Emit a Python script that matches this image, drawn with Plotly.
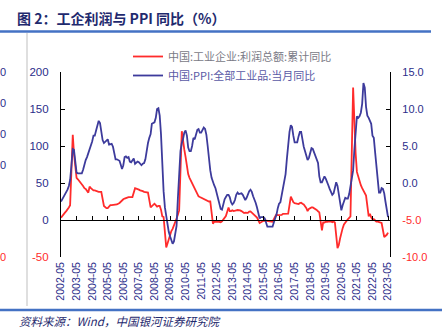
import pandas as pd
import plotly.graph_objects as go

# ---------------- data ----------------
months = pd.date_range("2002-05-01", "2023-05-01", freq="MS")

# 中国:工业企业:利润总额:累计同比 (%), None = January (not published)
profit = (
    [3, 6, 8, 10, 12, 14, 17, 20] +                                      # 2002 May-Dec
    [None, 115, 90, 68, 57, 55, 53, 50, 48, 46, 43, 42] +                # 2003
    [None, 37, 45, 43, 41, 40, 40, 39, 39, 38, 38, 38] +                 # 2004
    [None, 19, 17, 16, 16, 19, 20, 20, 20, 20, 21, 21] +                 # 2005
    [None, 23, 25, 27, 28, 29, 30, 30, 31, 31, 31, 31] +                 # 2006
    [None, 43, 42, 41, 41, 40, 40, 39, 38, 38, 38, 37] +                 # 2007
    [None, 17, 19, 21, 22, 20, 18, 19, 19, 14, 5, 4] +                   # 2008
    [None, -37, -32, -26, -20, -15, -12, -8, -4, 2, 7, 13] +             # 2009
    [None, 120, 105, 95, 85, 72, 62, 57, 53, 50, 47, 43] +               # 2010
    [None, 34, 32, 31, 30, 29, 29, 28, 27, 26, 25, 25] +                 # 2011
    [None, -5, -2.5, -2, -2.4, -2.2, -2.7, -3, -1.8, 0.5, 3, 5.3] +      # 2012
    [None, 17, 12, 12, 13, 12, 12, 13, 13.5, 13.5, 13, 12] +             # 2013
    [None, 9.4, 10, 10, 9.6, 11.4, 11.5, 10, 8, 6.7, 5.3, 3.3] +         # 2014
    [None, -4, -3, -1, -1, -0.7, -1, -2, -1.7, -2, -1.9, -2.3] +         # 2015
    [None, 4.8, 7.4, 6.5, 6.4, 6.2, 6.9, 8.4, 8.4, 8.6, 9.4, 8.5] +      # 2016
    [None, 31.5, 28, 24, 22.7, 22, 21.6, 21.6, 22.8, 23.3, 21.9, 21] +   # 2017
    [None, 16, 12, 15, 16.5, 17, 17, 16, 14.7, 13.6, 11.8, 10.3] +       # 2018
    [None, -14, -3.3, -3.4, -2.3, -2.4, -1.7, -1.7, -2.1, -2.9, -2.1, -3.3] +  # 2019
    [None, -38, -34, -25, -17, -11, -6, -3, -1, 1, 3, 5] +               # 2020
    [None, 179, 130, 90, 65, 58, 53, 47, 43, 40, 36, 33] +               # 2021
    [None, 5, 8.5, 3.5, 1, 1, -1.1, -2.1, -2.3, -3, -3.6, -4] +          # 2022
    [None, -23, -22, -20, -17]                                           # 2023 Jan-May
)

# 中国:PPI:全部工业品:当月同比 (%)
ppi = (
    [-2.5, -2.2, -1.9, -1.6, -1.3, -0.9, -0.4, 0.4] +                    # 2002 May-Dec
    [2.4, 4.6, 4.5, 2.6, 1.4, 1.3, 1.3, 1.4, 1.3, 1.8, 2.6, 3.1] +       # 2003
    [3.5, 4.0, 4.6, 5.0, 5.6, 6.4, 6.4, 7.1, 7.9, 8.4, 8.1, 7.1] +       # 2004
    [5.8, 5.4, 5.6, 5.8, 5.9, 5.2, 5.2, 5.3, 4.9, 4.0, 3.2, 3.2] +       # 2005
    [3.1, 3.0, 2.5, 1.9, 2.4, 3.5, 3.6, 3.4, 3.5, 2.9, 2.8, 3.1] +       # 2006
    [3.3, 2.6, 2.7, 2.9, 2.8, 2.5, 2.4, 2.6, 2.7, 3.2, 4.6, 5.4] +       # 2007
    [6.1, 6.6, 8.0, 8.1, 8.2, 8.8, 10.0, 10.1, 9.1, 6.6, 2.0, -1.1] +    # 2008
    [-3.3, -4.5, -6.0, -6.6, -7.2, -7.8, -8.2, -7.9, -7.0, -5.8, -2.1, 1.7] +  # 2009
    [4.3, 5.4, 5.9, 6.8, 7.1, 6.4, 4.8, 4.3, 4.3, 5.0, 6.1, 5.9] +       # 2010
    [6.6, 7.2, 7.3, 6.8, 6.8, 7.1, 7.5, 7.3, 6.5, 5.0, 2.7, 1.7] +       # 2011
    [0.7, 0.0, -0.3, -0.7, -1.4, -2.1, -2.9, -3.5, -3.6, -2.8, -2.2, -1.9] +   # 2012
    [-1.6, -1.6, -1.9, -2.6, -2.9, -2.7, -2.3, -1.6, -1.3, -1.5, -1.4, -1.4] + # 2013
    [-1.6, -2.0, -2.3, -2.0, -1.4, -1.1, -0.9, -1.2, -1.8, -2.2, -2.7, -3.3] + # 2014
    [-4.3, -4.8, -4.6, -4.6, -4.6, -4.8, -5.4, -5.9, -5.9, -5.9, -5.9, -5.9] + # 2015
    [-5.3, -4.9, -4.3, -3.4, -2.8, -2.6, -1.7, -0.8, 0.1, 1.2, 3.3, 5.5] +     # 2016
    [6.9, 7.8, 7.6, 6.4, 5.5, 5.5, 5.5, 6.3, 6.9, 6.9, 5.8, 4.9] +       # 2017
    [4.3, 3.7, 3.1, 3.4, 4.1, 4.7, 4.6, 4.1, 3.6, 3.3, 2.7, 0.9] +       # 2018
    [0.1, 0.1, 0.4, 0.9, 0.6, 0.0, -0.3, -0.8, -1.2, -1.6, -1.4, -0.5] + # 2019
    [0.1, -0.4, -1.5, -3.1, -3.7, -3.0, -2.4, -2.0, -2.1, -2.1, -1.5, -0.4] +  # 2020
    [0.3, 1.7, 4.4, 6.8, 9.0, 8.8, 9.0, 9.5, 10.7, 13.5, 12.9, 10.3] +   # 2021
    [9.1, 8.8, 8.3, 8.0, 6.4, 6.1, 4.2, 2.3, 0.9, -1.3, -1.3, -0.7] +    # 2022
    [-0.8, -1.4, -2.5, -3.6, -4.6]                                       # 2023 Jan-May
)

tick_years = list(range(2002, 2024))
x_tickvals = [f"{y}-05-01" for y in tick_years]
x_ticktext = [f"{y}-05" for y in tick_years]
left_ticks = [-50, 0, 50, 100, 150, 200]
right_ticks = [-10, -5, 0, 5, 10, 15]

name_profit = "中国:工业企业:利润总额:累计同比"
name_ppi = "中国:PPI:全部工业品:当月同比"

# ---------------- style ----------------
NAVY = "#2B2D8A"
RED = "#FF2B2B"
BLUE = "#3D3B9C"
TITLE = "#1F2A6E"
CJK = "Noto Sans CJK SC"
LAT = "Liberation Sans"

W, H = 442, 328
PL, PR, PT, PB = 61, 390, 72, 257   # plot area in px


def fx(px):
    return (px - PL) / (PR - PL)


def fy(py):
    return (PB - py) / (PB - PT)


def col(txt, c):
    return f'<span style="color:{c}">{txt}</span>'


left_text = [col(str(v), RED if v < 0 else NAVY) for v in left_ticks]
right_text = [col(f"{v:.1f}", RED if v < 0 else NAVY) for v in right_ticks]

xrange = ["2002-05-01", "2023-06-16"]

fig = go.Figure()
fig.add_trace(go.Scatter(
    x=months, y=profit, name=col(name_profit, "#7A7A86"), mode="lines",
    line=dict(color=RED, width=1.8), connectgaps=True, yaxis="y", xaxis="x"))
fig.add_trace(go.Scatter(
    x=months, y=ppi, name=col(name_ppi, "#5A5AA6"), mode="lines",
    line=dict(color=BLUE, width=1.8), yaxis="y2", xaxis="x"))
# empty helper trace so the zero-line axis (x2) is created
fig.add_trace(go.Scatter(x=[], y=[], xaxis="x2", yaxis="y",
                         showlegend=False, hoverinfo="skip"))

fig.update_layout(
    width=W, height=H,
    margin=dict(l=PL, r=W - PR, t=PT, b=H - PB),
    paper_bgcolor="white", plot_bgcolor="white",
    font=dict(family=LAT, color=NAVY),
    showlegend=True,
    legend=dict(
        x=fx(128), y=fy(42), xanchor="left", yanchor="top",
        bgcolor="rgba(0,0,0,0)", font=dict(family=CJK, size=11, color="#7A7A86"),
        itemwidth=30, tracegroupgap=0,
    ),
    xaxis=dict(
        type="date", range=xrange, tickvals=x_tickvals, ticktext=x_ticktext,
        tickangle=-90, tickfont=dict(size=10.5, color=NAVY, family=LAT),
        showline=False, showgrid=False, zeroline=False, ticks="",
        ticklabelstandoff=2,
    ),
    xaxis2=dict(
        type="date", range=xrange, tickvals=x_tickvals, overlaying="x",
        anchor="free", position=fy(220), side="bottom",
        showline=True, linecolor="black", linewidth=1.2,
        ticks="inside", ticklen=4, tickcolor="black", tickwidth=1.2,
        showticklabels=False, showgrid=False, zeroline=False,
    ),
    yaxis=dict(
        range=[-50, 200], tickvals=left_ticks, ticktext=left_text,
        tickfont=dict(size=11.5, color=NAVY, family=LAT),
        showline=True, linecolor="black", linewidth=1.2,
        ticks="inside", ticklen=4, tickcolor="black", tickwidth=1.2,
        showgrid=False, zeroline=False, ticklabelstandoff=9,
    ),
    yaxis2=dict(
        range=[-10, 15], tickvals=right_ticks, ticktext=right_text,
        overlaying="y", side="right", anchor="x",
        tickfont=dict(size=11, color=NAVY, family=LAT),
        showline=True, linecolor="black", linewidth=1.2,
        ticks="inside", ticklen=4, tickcolor="black", tickwidth=1.2,
        showgrid=False, zeroline=False, ticklabelstandoff=9,
    ),
    title=dict(
        text="<b>图 2：工企利润与 PPI 同比（%）</b>",
        xref="container", yref="container",
        x=17 / W, y=1 - 19 / H, xanchor="left", yanchor="middle",
        font=dict(family=CJK, size=14, color=TITLE),
    ),
)

# decorative frame lines of the report page
fig.add_shape(type="line", xref="paper", yref="paper",
              x0=fx(0), x1=fx(431), y0=fy(31.5), y1=fy(31.5),
              line=dict(color="#4472C4", width=2.5))
fig.add_shape(type="line", xref="paper", yref="paper",
              x0=fx(0), x1=fx(442), y0=fy(310), y1=fy(310),
              line=dict(color="#4472C4", width=2.5))
fig.add_shape(type="line", xref="paper", yref="paper",
              x0=fx(27), x1=fx(27), y0=fy(33), y1=fy(306),
              line=dict(color="#BFBFBF", width=1))

# remnants of the neighbouring chart's axis labels at the left edge
for py, c in [(72, NAVY), (103, NAVY), (134, NAVY), (165, NAVY), (257, RED)]:
    fig.add_annotation(text="0", xref="paper", yref="paper", x=fx(7.5), y=fy(py),
                       xanchor="right", yanchor="middle", showarrow=False,
                       font=dict(family=LAT, size=11, color=c))

# source note
fig.add_annotation(
    text="<i>资料来源：Wind，中国银河证券研究院</i>",
    xref="paper", yref="paper", x=fx(17), y=fy(320.5),
    xanchor="left", yanchor="middle", showarrow=False,
    font=dict(family=CJK, size=11.5, color=TITLE),
)

fig.write_html("out.html")
